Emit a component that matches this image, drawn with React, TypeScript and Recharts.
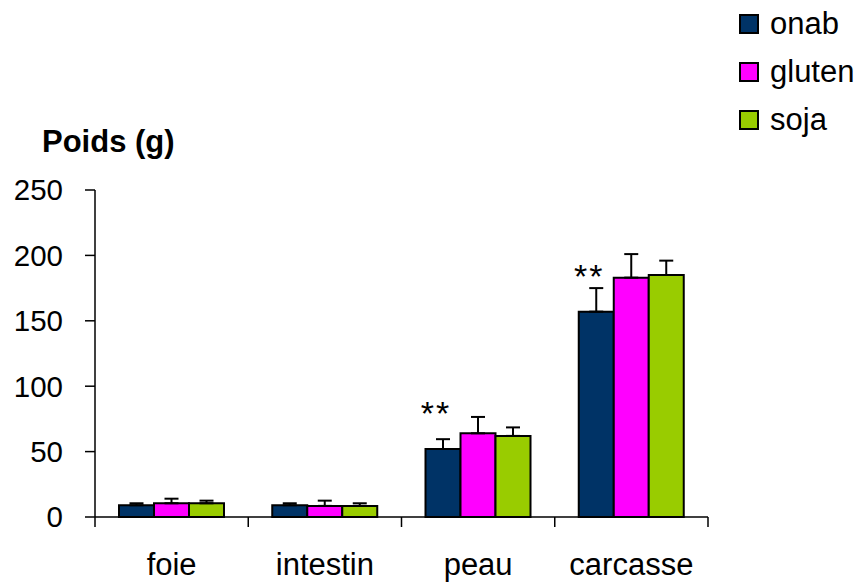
import { BarChart, Bar, XAxis, YAxis, ErrorBar, LabelList, Legend } from 'recharts';

const categories = ['foie', 'intestin', 'peau', 'carcasse'];
const seriesNames = ['onab', 'gluten', 'soja'];
const onab = [9, 9, 52, 157];
const gluten = [10.5, 8.5, 64, 183];
const soja = [10.5, 8.5, 62, 185];
const onabErr = [1.5, 1.5, 7.5, 18];
const glutenErr = [3.5, 4, 12.5, 18];
const sojaErr = [2, 2, 6.5, 11];
const signif = ['', '', '**', '**'];
const yTicks = [0, 50, 100, 150, 200, 250];

const FONT = '"Liberation Sans", Arial, sans-serif';

const data = categories.map((name, i) => ({
  name,
  onab: onab[i],
  gluten: gluten[i],
  soja: soja[i],
  onabErr: [0, onabErr[i]],
  glutenErr: [0, glutenErr[i]],
  sojaErr: [0, sojaErr[i]],
  sig: signif[i],
}));

const CategoryTick = (props: any) => {
  const { x, y, payload, index } = props;
  const half = payload?.offset || 76.6;
  const last = index === categories.length - 1;
  return (
    <g>
      <line x1={x - half} y1={y} x2={x - half} y2={y + 10} stroke="#000" strokeWidth={1.5} />
      {last && <line x1={x + half} y1={y} x2={x + half} y2={y + 10} stroke="#000" strokeWidth={1.5} />}
      <text x={x} y={y + 58} textAnchor="middle" fontSize={31} fontFamily={FONT} fill="#000">
        {payload.value}
      </text>
    </g>
  );
};

const SigLabel = (props: any) => {
  const { x, y, width, value } = props;
  if (!value) return null;
  return (
    <text x={x + width / 2 - 7} y={y - 24} textAnchor="middle" fontSize={34} fontFamily={FONT} fill="#000" letterSpacing={2}>
      {value}
    </text>
  );
};

const LegendBox = (props: any) => {
  const items = [...(props.payload || [])].sort(
    (a: any, b: any) => seriesNames.indexOf(a.value) - seriesNames.indexOf(b.value)
  );
  return (
    <div style={{ fontFamily: FONT, fontSize: 31 }}>
      {items.map((p: any) => (
        <div key={p.value} style={{ display: 'flex', alignItems: 'center', height: 48 }}>
          <span style={{ width: 16, height: 16, background: p.color, border: '2px solid #000', display: 'inline-block' }} />
          <span style={{ marginLeft: 11 }}>{p.value}</span>
        </div>
      ))}
    </div>
  );
};

export default function App() {
  return (
    <div style={{ position: 'absolute', left: 0, top: 0, width: 857, height: 583, background: '#fff' }}>
      <div style={{ position: 'absolute', left: 42, top: 124, fontFamily: FONT, fontSize: 31, fontWeight: 'bold' }}>
        Poids (g)
      </div>
      <BarChart width={857} height={583} data={data} margin={{ top: 190, right: 149, bottom: 0, left: 35 }} barGap={0} barSize={35}>
        <XAxis dataKey="name" height={66} tickLine={false} tickSize={0} tickMargin={0} axisLine={{ stroke: '#000', strokeWidth: 1.5 }} tick={<CategoryTick />} interval={0} />
        <YAxis width={60} domain={[0, 250]} ticks={yTicks} tickSize={10} tickMargin={22} axisLine={{ stroke: '#000', strokeWidth: 1.5 }} tickLine={{ stroke: '#000', strokeWidth: 1.5 }} tick={{ fill: '#000', fontSize: 29.5, fontFamily: FONT }} />
        <Legend layout="vertical" align="center" verticalAlign="middle" content={<LegendBox />} wrapperStyle={{ left: 739, top: 0, width: 118 }} />
        <Bar dataKey="onab" name="onab" fill="#003366" stroke="#000" strokeWidth={2} isAnimationActive={false}>
          <ErrorBar dataKey="onabErr" width={7} stroke="#000" strokeWidth={2} />
          <LabelList dataKey="sig" content={<SigLabel />} />
        </Bar>
        <Bar dataKey="gluten" name="gluten" fill="#FF00FF" stroke="#000" strokeWidth={2} isAnimationActive={false}>
          <ErrorBar dataKey="glutenErr" width={7} stroke="#000" strokeWidth={2} />
        </Bar>
        <Bar dataKey="soja" name="soja" fill="#99CC00" stroke="#000" strokeWidth={2} isAnimationActive={false}>
          <ErrorBar dataKey="sojaErr" width={7} stroke="#000" strokeWidth={2} />
        </Bar>
      </BarChart>
    </div>
  );
}
